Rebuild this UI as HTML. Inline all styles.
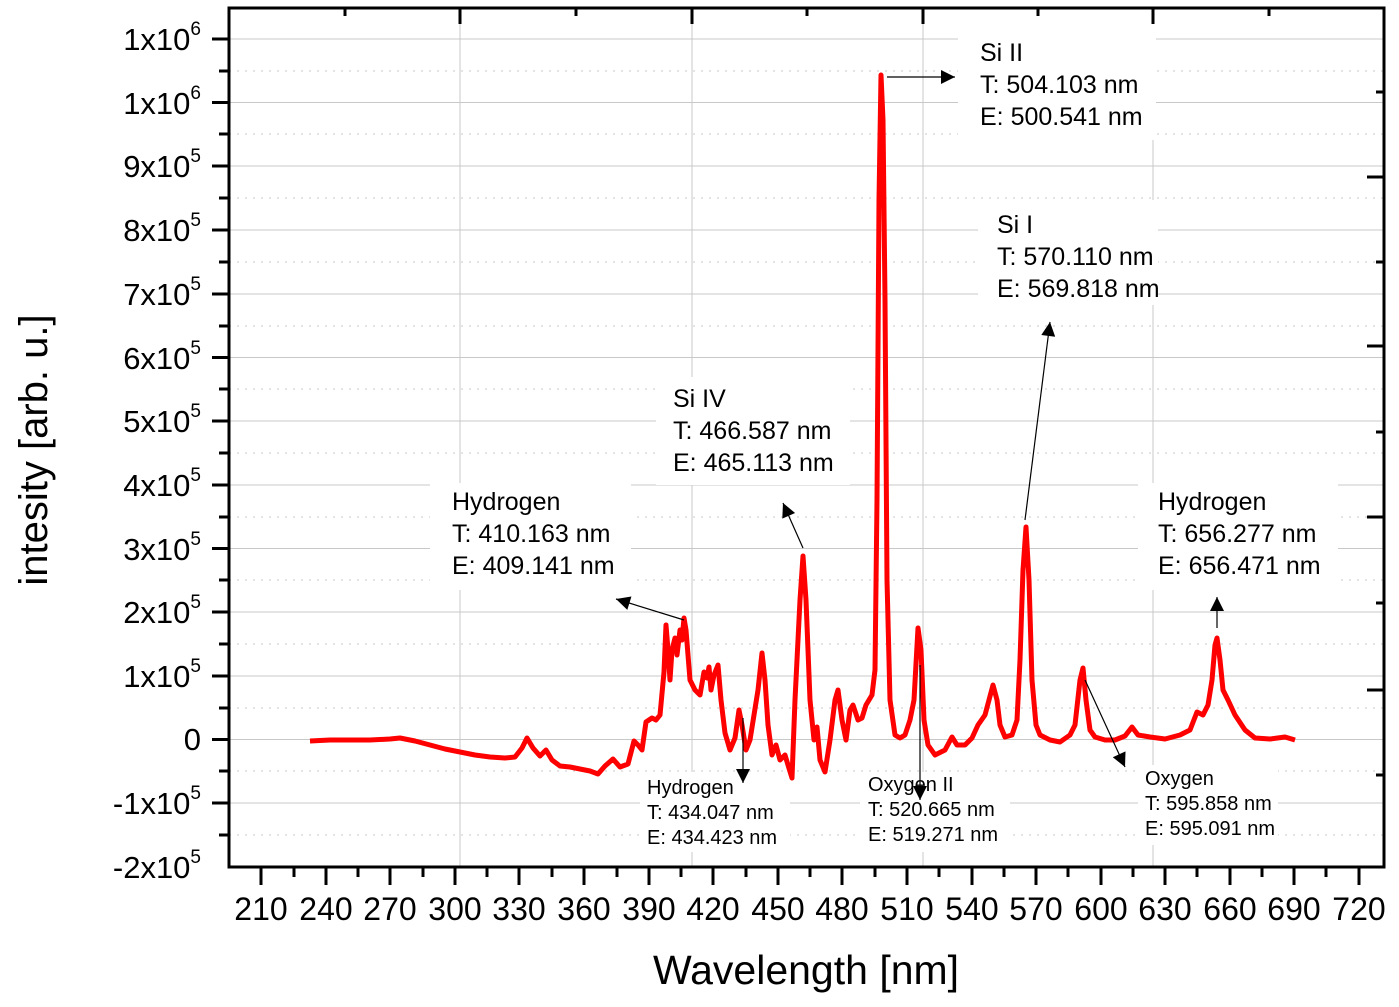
<!DOCTYPE html>
<html><head><meta charset="utf-8"><style>
html,body{margin:0;padding:0;background:#fff;}
svg{display:block;font-family:"Liberation Sans",Arial,sans-serif;}
</style></head><body>
<svg width="1399" height="1007" viewBox="0 0 1399 1007" xmlns="http://www.w3.org/2000/svg">
<defs>
<marker id="ah" viewBox="0 0 10 10" refX="10" refY="5" markerWidth="22" markerHeight="14" markerUnits="userSpaceOnUse" orient="auto"><path d="M0,0 L10,5 L0,10 z" fill="#000"/></marker>
</defs>
<g stroke="#c8c8c8" stroke-width="1">
<line x1="229" x2="1384" y1="39" y2="39"/><line x1="229" x2="1384" y1="102.5" y2="102.5"/><line x1="229" x2="1384" y1="166" y2="166"/><line x1="229" x2="1384" y1="230" y2="230"/><line x1="229" x2="1384" y1="294" y2="294"/><line x1="229" x2="1384" y1="357.5" y2="357.5"/><line x1="229" x2="1384" y1="421" y2="421"/><line x1="229" x2="1384" y1="485" y2="485"/><line x1="229" x2="1384" y1="548.5" y2="548.5"/><line x1="229" x2="1384" y1="612" y2="612"/><line x1="229" x2="1384" y1="676" y2="676"/><line x1="229" x2="1384" y1="739.5" y2="739.5"/><line x1="229" x2="1384" y1="803" y2="803"/>
<line x1="460" x2="460" y1="8" y2="867"/><line x1="692" x2="692" y1="8" y2="867"/><line x1="923" x2="923" y1="8" y2="867"/><line x1="1153" x2="1153" y1="8" y2="867"/>
</g>
<g stroke="#c8c8c8" stroke-width="1" stroke-dasharray="2,6">
<line x1="229" x2="1384" y1="71" y2="71"/><line x1="229" x2="1384" y1="134" y2="134"/><line x1="229" x2="1384" y1="198" y2="198"/><line x1="229" x2="1384" y1="262" y2="262"/><line x1="229" x2="1384" y1="326" y2="326"/><line x1="229" x2="1384" y1="389" y2="389"/><line x1="229" x2="1384" y1="453" y2="453"/><line x1="229" x2="1384" y1="517" y2="517"/><line x1="229" x2="1384" y1="580" y2="580"/><line x1="229" x2="1384" y1="644" y2="644"/><line x1="229" x2="1384" y1="708" y2="708"/><line x1="229" x2="1384" y1="771" y2="771"/><line x1="229" x2="1384" y1="835" y2="835"/>
</g>
<g fill="#fff">
<rect x="958" y="22" width="198" height="118"/>
<rect x="978" y="200" width="180" height="105"/>
<rect x="656" y="377" width="194" height="108"/>
<rect x="430" y="483" width="201" height="107"/>
<rect x="1138" y="483" width="200" height="107"/>
<rect x="640" y="772" width="150" height="80"/>
<rect x="860" y="772" width="150" height="80"/>
<rect x="1138" y="765" width="140" height="80"/>
</g>
<polyline fill="none" stroke="#ff0000" stroke-width="5" stroke-linejoin="round" points="310,741 330,740 350,740 370,740 390,739 400,738 415,741 430,745 445,749 460,752 475,755 490,757 505,758 515,757 522,748 527,738 533,748 540,756 546,750 552,760 560,766 570,767 580,769 590,771 598,774 605,766 613,759 620,767 628,764 634,741 638,745 642,750 646,722 652,718 656,720 660,715 664,672 666,625 668,650 670,680 672,650 675,638 677,655 680,630 682,640 684,618 686,630 690,680 695,690 700,695 704,672 707,678 709,667 711,690 714,675 718,665 721,700 725,733 730,750 735,738 739,710 742,725 746,750 750,740 754,715 758,690 762,653 765,680 768,725 772,755 776,745 780,760 785,755 788,765 792,778 795,700 800,600 803,556 806,600 810,700 814,740 817,727 820,760 825,772 830,740 835,700 838,690 842,720 846,740 850,710 853,705 858,720 862,718 866,705 872,695 875,670 877,500 879,200 881,75 883,120 885,300 887,580 890,700 895,735 900,738 905,735 910,720 914,700 918,628 921,650 924,720 928,745 935,755 945,750 952,737 957,745 965,745 972,738 978,725 985,715 993,685 997,700 1000,725 1005,737 1012,735 1017,720 1020,660 1023,570 1026,527 1029,580 1032,680 1036,725 1040,735 1050,740 1060,742 1070,735 1075,725 1080,680 1083,668 1086,700 1090,730 1095,737 1105,740 1115,740 1125,736 1132,727 1138,735 1150,737 1165,739 1180,735 1190,730 1197,712 1203,715 1208,705 1212,680 1215,645 1217,638 1220,660 1223,690 1228,700 1235,715 1245,730 1255,738 1270,739 1285,737 1295,740"/>
<g stroke="#000" stroke-width="1.2" marker-end="url(#ah)">
<line x1="887" y1="77" x2="955" y2="77"/>
<line x1="1025" y1="520" x2="1050" y2="322"/>
<line x1="803" y1="548" x2="783" y2="503"/>
<line x1="684" y1="620" x2="616" y2="599"/>
<line x1="1217" y1="628" x2="1217" y2="597"/>
<line x1="743" y1="718" x2="743" y2="783"/>
<line x1="920" y1="665" x2="920" y2="800"/>
<line x1="1085" y1="680" x2="1125" y2="767"/>
</g>
<g font-size="25" fill="#000">
<text x="980" y="61">Si II</text><text x="980" y="93">T: 504.103 nm</text><text x="980" y="125">E: 500.541 nm</text>
<text x="997" y="233">Si I</text><text x="997" y="265">T: 570.110 nm</text><text x="997" y="297">E: 569.818 nm</text>
<text x="673" y="407">Si IV</text><text x="673" y="439">T: 466.587 nm</text><text x="673" y="471">E: 465.113 nm</text>
<text x="452" y="510">Hydrogen</text><text x="452" y="542">T: 410.163 nm</text><text x="452" y="574">E: 409.141 nm</text>
<text x="1158" y="510">Hydrogen</text><text x="1158" y="542">T: 656.277 nm</text><text x="1158" y="574">E: 656.471 nm</text>
</g>
<g font-size="20" fill="#000">
<text x="647" y="794">Hydrogen</text><text x="647" y="819">T: 434.047 nm</text><text x="647" y="844">E: 434.423 nm</text>
<text x="868" y="791">Oxygen II</text><text x="868" y="816">T: 520.665 nm</text><text x="868" y="841">E: 519.271 nm</text>
<text x="1145" y="785">Oxygen</text><text x="1145" y="810">T: 595.858 nm</text><text x="1145" y="835">E: 595.091 nm</text>
</g>
<rect x="229" y="8" width="1155" height="859" fill="none" stroke="#000" stroke-width="3"/>
<g stroke="#000" stroke-width="3">
<line x1="212" x2="229" y1="39" y2="39"/><line x1="212" x2="229" y1="102.5" y2="102.5"/><line x1="212" x2="229" y1="166" y2="166"/><line x1="212" x2="229" y1="230" y2="230"/><line x1="212" x2="229" y1="294" y2="294"/><line x1="212" x2="229" y1="357.5" y2="357.5"/><line x1="212" x2="229" y1="421" y2="421"/><line x1="212" x2="229" y1="485" y2="485"/><line x1="212" x2="229" y1="548.5" y2="548.5"/><line x1="212" x2="229" y1="612" y2="612"/><line x1="212" x2="229" y1="676" y2="676"/><line x1="212" x2="229" y1="739.5" y2="739.5"/><line x1="212" x2="229" y1="803" y2="803"/>
<line x1="219" x2="229" y1="71" y2="71"/><line x1="219" x2="229" y1="134" y2="134"/><line x1="219" x2="229" y1="198" y2="198"/><line x1="219" x2="229" y1="262" y2="262"/><line x1="219" x2="229" y1="326" y2="326"/><line x1="219" x2="229" y1="389" y2="389"/><line x1="219" x2="229" y1="453" y2="453"/><line x1="219" x2="229" y1="517" y2="517"/><line x1="219" x2="229" y1="580" y2="580"/><line x1="219" x2="229" y1="644" y2="644"/><line x1="219" x2="229" y1="708" y2="708"/><line x1="219" x2="229" y1="771" y2="771"/><line x1="219" x2="229" y1="835" y2="835"/>
<line x1="1367" x2="1384" y1="177" y2="177"/><line x1="1367" x2="1384" y1="346" y2="346"/><line x1="1367" x2="1384" y1="517" y2="517"/><line x1="1367" x2="1384" y1="690" y2="690"/>
<line x1="1376" x2="1384" y1="92" y2="92"/><line x1="1376" x2="1384" y1="262" y2="262"/><line x1="1376" x2="1384" y1="432" y2="432"/><line x1="1376" x2="1384" y1="603" y2="603"/><line x1="1376" x2="1384" y1="775" y2="775"/>
<line x1="460" x2="460" y1="8" y2="24"/><line x1="692" x2="692" y1="8" y2="24"/><line x1="923" x2="923" y1="8" y2="24"/><line x1="1153" x2="1153" y1="8" y2="24"/>
<line x1="345" x2="345" y1="8" y2="16"/><line x1="576" x2="576" y1="8" y2="16"/><line x1="807" x2="807" y1="8" y2="16"/><line x1="1038" x2="1038" y1="8" y2="16"/><line x1="1269" x2="1269" y1="8" y2="16"/>
</g>
<g stroke="#000" stroke-width="3">
<line x1="261" x2="261" y1="867" y2="885"/><line x1="326" x2="326" y1="867" y2="885"/><line x1="390" x2="390" y1="867" y2="885"/><line x1="455" x2="455" y1="867" y2="885"/><line x1="519" x2="519" y1="867" y2="885"/><line x1="584" x2="584" y1="867" y2="885"/><line x1="649" x2="649" y1="867" y2="885"/><line x1="713" x2="713" y1="867" y2="885"/><line x1="778" x2="778" y1="867" y2="885"/><line x1="842" x2="842" y1="867" y2="885"/><line x1="907" x2="907" y1="867" y2="885"/><line x1="972" x2="972" y1="867" y2="885"/><line x1="1036" x2="1036" y1="867" y2="885"/><line x1="1101" x2="1101" y1="867" y2="885"/><line x1="1165" x2="1165" y1="867" y2="885"/><line x1="1230" x2="1230" y1="867" y2="885"/><line x1="1294" x2="1294" y1="867" y2="885"/><line x1="1359" x2="1359" y1="867" y2="885"/>
<line x1="294" x2="294" y1="867" y2="877"/><line x1="358" x2="358" y1="867" y2="877"/><line x1="423" x2="423" y1="867" y2="877"/><line x1="487" x2="487" y1="867" y2="877"/><line x1="552" x2="552" y1="867" y2="877"/><line x1="617" x2="617" y1="867" y2="877"/><line x1="681" x2="681" y1="867" y2="877"/><line x1="746" x2="746" y1="867" y2="877"/><line x1="810" x2="810" y1="867" y2="877"/><line x1="875" x2="875" y1="867" y2="877"/><line x1="939" x2="939" y1="867" y2="877"/><line x1="1004" x2="1004" y1="867" y2="877"/><line x1="1068" x2="1068" y1="867" y2="877"/><line x1="1133" x2="1133" y1="867" y2="877"/><line x1="1197" x2="1197" y1="867" y2="877"/><line x1="1262" x2="1262" y1="867" y2="877"/><line x1="1326" x2="1326" y1="867" y2="877"/>
</g>
<g font-size="32" text-anchor="middle" fill="#000">
<text x="261" y="920">210</text><text x="326" y="920">240</text><text x="390" y="920">270</text><text x="455" y="920">300</text><text x="519" y="920">330</text><text x="584" y="920">360</text><text x="649" y="920">390</text><text x="713" y="920">420</text><text x="778" y="920">450</text><text x="842" y="920">480</text><text x="907" y="920">510</text><text x="972" y="920">540</text><text x="1036" y="920">570</text><text x="1101" y="920">600</text><text x="1165" y="920">630</text><text x="1230" y="920">660</text><text x="1294" y="920">690</text><text x="1359" y="920">720</text>
</g>
<g font-size="31" text-anchor="end" fill="#000">
<text x="201" y="50">1x10<tspan font-size="19" dy="-15">6</tspan></text>
<text x="201" y="114">1x10<tspan font-size="19" dy="-15">6</tspan></text>
<text x="201" y="177">9x10<tspan font-size="19" dy="-15">5</tspan></text>
<text x="201" y="241">8x10<tspan font-size="19" dy="-15">5</tspan></text>
<text x="201" y="305">7x10<tspan font-size="19" dy="-15">5</tspan></text>
<text x="201" y="369">6x10<tspan font-size="19" dy="-15">5</tspan></text>
<text x="201" y="432">5x10<tspan font-size="19" dy="-15">5</tspan></text>
<text x="201" y="496">4x10<tspan font-size="19" dy="-15">5</tspan></text>
<text x="201" y="560">3x10<tspan font-size="19" dy="-15">5</tspan></text>
<text x="201" y="623">2x10<tspan font-size="19" dy="-15">5</tspan></text>
<text x="201" y="687">1x10<tspan font-size="19" dy="-15">5</tspan></text>
<text x="201" y="750">0</text>
<text x="201" y="814">-1x10<tspan font-size="19" dy="-15">5</tspan></text>
<text x="201" y="878">-2x10<tspan font-size="19" dy="-15">5</tspan></text>
</g>
<text x="806" y="984" font-size="41" text-anchor="middle" fill="#000">Wavelength [nm]</text>
<text transform="translate(47,450) rotate(-90)" font-size="40" text-anchor="middle" fill="#000">intesity [arb. u.]</text>
</svg>
</body></html>
